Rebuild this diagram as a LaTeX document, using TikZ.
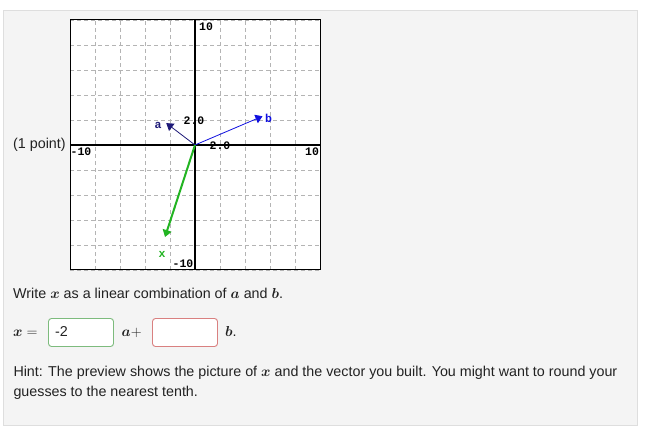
\documentclass[tikz,border=0pt]{standalone}
\usepackage{fontspec}
\setmainfont{Liberation Sans}
\newfontfamily\graphfont{Liberation Mono}
\usepackage{amsmath}
\usetikzlibrary{arrows.meta}
\definecolor{panel}{HTML}{F4F4F4}
\definecolor{panelline}{HTML}{DEDEDE}
\definecolor{gridgray}{HTML}{B4B4B4}
\definecolor{navy}{HTML}{1E1A78}
\definecolor{vblue}{HTML}{1010E0}
\definecolor{vgreen}{HTML}{22B422}
\definecolor{okgreen}{HTML}{7DBB7D}
\definecolor{badred}{HTML}{D98080}
\definecolor{ink}{HTML}{222222}

\begin{document}
\begin{tikzpicture}[x=1pt,y=-1pt,
    gridline/.style={gridgray, line width=0.8pt, dash pattern=on 4pt off 3pt},
    axisline/.style={black, line width=1.2pt},
    gtext/.style={inner sep=0pt, font=\graphfont\bfseries\fontsize{11.5}{11.5}\selectfont},
    vecline/.style={-{Triangle[width=9pt,length=7pt]}},
    bodytext/.style={inner sep=0pt, anchor=base west, text=ink,
                     font=\fontsize{14.3}{16}\selectfont},
    answerbox/.style={draw, fill=white, rounded corners=3pt, line width=0.9pt,
                      minimum width=65pt, minimum height=28pt, inner sep=0pt}]
\useasboundingbox (0,0) rectangle (646,435);

%panel
\draw [panelline, fill=panel] (3.5,10.5) rectangle (637.5,425.5);

\node [bodytext, anchor=west] (pts) at (13,145) {(1 point)};

%graph
\begin{scope}[shift={(195,145)}, x=12.5pt, y=12.5pt]
\fill [white] (-10,-10) rectangle (10,10);
\draw [gridline] (-10,-10) grid [step=2] (10,10);
\draw [axisline] (-10,0) -- (10,0);
\draw [axisline] (0,-10) -- (0,10);
\draw [black, line width=1pt] (-10,-10) rectangle (10,10);

% tick labels
\node [gtext] (ytop) at (0.88,9.44) {10};
\node [gtext] (xleft) at (-9.12,-0.56) {-10};
\node [gtext] (xright) at (9.36,-0.56) {10};
\node [gtext] (ybot) at (-0.96,-9.52) {-10};
\node [gtext] (ytwo) at (-0.08,1.92) {2.0};
\node [gtext] (xtwo) at (2,-0.08) {2.0};

% vectors
\coordinate (O) at (0,0);
\coordinate (a) at (-2.3,1.75);
\coordinate (b) at (5.4,2.3);
\coordinate (x) at (-2.4,-7.36);
\draw [vecline, navy, line width=0.8pt] (O) -- (a);
\draw [vecline, vblue, line width=0.8pt] (O) -- (b);
\draw [vecline, vgreen, line width=2pt] (O) -- (x);
\node [gtext, text=navy] (la) at (-2.96,1.6) {a};
\node [gtext, text=vblue] (lb) at (5.88,2.16) {b};
\node [gtext, text=vgreen] (lx) at (-2.64,-8.72) {x};
\end{scope}

%question
\node [bodytext] (ask) at (13,299)
  {Write $\boldsymbol{x}$ as a linear combination of $\boldsymbol{a}$ and $\boldsymbol{b}$.};
\node [bodytext] (xeq) at (13,337) {$\boldsymbol{x} =$};
\node [answerbox, draw=okgreen] (ans1) at (81,332.5) {};
\node [bodytext] (val1) at (55,337) {-2};
\node [bodytext] (pa) at (121.5,337) {$\boldsymbol{a}+$};
\node [answerbox, draw=badred] (ans2) at (185,332.5) {};
\node [bodytext] (pb) at (225,337) {$\boldsymbol{b}$.};

%hint
\node [bodytext] (hint1) at (13.3,376.7)
  {Hint: The preview shows the picture of $\boldsymbol{x}$ and the vector you built. You might want to round your};
\node [bodytext] (hint2) at (13.3,396.5) {guesses to the nearest tenth.};
\end{tikzpicture}
\end{document}
